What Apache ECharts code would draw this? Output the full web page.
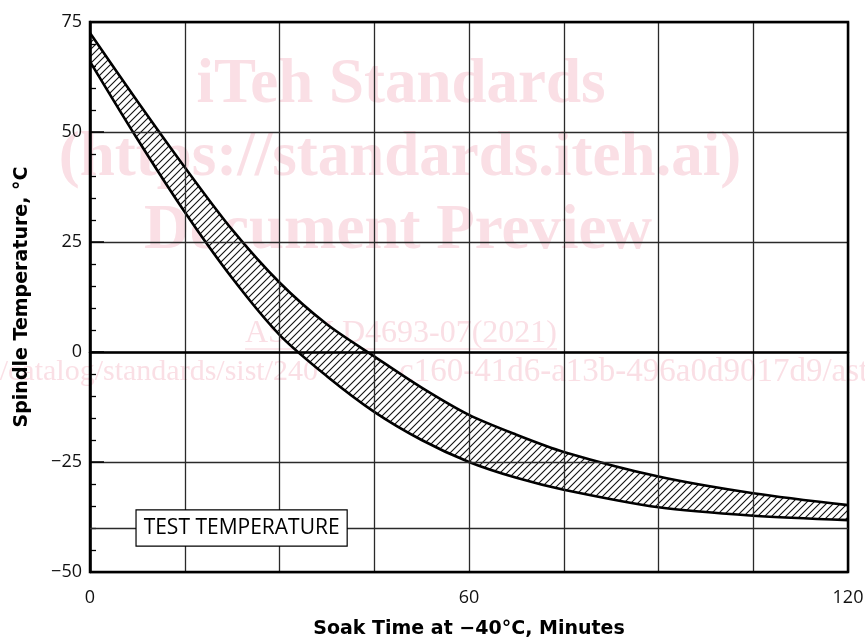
<!DOCTYPE html>
<html>
<head>
<meta charset="utf-8">
<script src="https://cdn.jsdelivr.net/npm/echarts@6/dist/echarts.min.js"></script>
<style>
  html, body { margin: 0; background: #fff; }
  #chart { width: 865px; height: 641px; }
</style>
</head>
<body>
<div id="chart"></div>
<script>
// values
const soakMinutes = [0, 7.5, 15, 22.5, 30, 37.5, 45, 52.5, 60, 67.5, 75, 90, 105, 120];
const upperTemp = [72.5, 57.0, 42.0, 27.8, 15.8, 6.3, -1.0, -8.1, -14.3, -18.8, -22.7, -28.3, -32.1, -34.8];
const lowerTemp = [66, 48.4, 31.8, 16.8, 3.9, -5.5, -13.6, -20.0, -25.0, -28.6, -31.3, -35.3, -37.2, -38.2];
const xTickLabels = [0, 60, 120];
const testTemp = -40;
const testLabel = 'TEST TEMPERATURE';
const testLabelMinute = 24;

const chart = echarts.init(document.getElementById('chart'));

// hatch fill for the band
const hatch = document.createElement('canvas');
hatch.width = 7;
hatch.height = 7;
const ctx = hatch.getContext('2d');
ctx.fillStyle = '#fff';
ctx.fillRect(0, 0, 7, 7);
ctx.strokeStyle = '#111';
ctx.lineWidth = 1.1;
ctx.beginPath();
ctx.moveTo(-1, 8); ctx.lineTo(8, -1);
ctx.moveTo(-1, 1); ctx.lineTo(1, -1);
ctx.moveTo(6, 8); ctx.lineTo(8, 6);
ctx.stroke();

const pink = '#fadfe5';
const wm = (text, x, y, font, align) => ({
  type: 'text', z: 0, silent: true,
  style: {
    text, x, y, font, fill: pink,
    align: align || 'center', textAlign: align || 'center',
    verticalAlign: 'middle', textVerticalAlign: 'middle'
  }
});

const gridLine = { color: '#2a2a2a', width: 1.3 };

// y first so the stack is taken on the temperature dimension
const toPoints = (vals) => soakMinutes.map((m, i) => [vals[i], m]);

const option = {
  animation: false,
  backgroundColor: '#fff',
  graphic: [
    wm('iTeh Standards', 401, 86, 'bold 63px "Liberation Serif"'),
    wm('(https://standards.iteh.ai)', 400, 159, 'bold 63px "Liberation Serif"'),
    wm('Document Preview', 398, 232, 'bold 63px "Liberation Serif"'),
    wm('ASTM D4693-07(2021)', 401, 334, '32px "Liberation Serif"'),
    { type: 'line', z: 0, silent: true, shape: { x1: 245, y1: 349, x2: 557, y2: 349 }, style: { stroke: pink, lineWidth: 1.5 } },
    wm('https://standards.iteh.ai/catalog/standards/sist/240', 318, 372, '30px "Liberation Serif"', 'right'),
    wm('c160-41d6-a13b-496a0d9017d9/astm-d4693-072021', 399, 372, '33px "Liberation Serif"', 'left')
  ],
  grid: {
    left: 90, right: 17, top: 22, bottom: 69,
    outerBoundsMode: 'none', containLabel: false,
    show: true, borderColor: '#000', borderWidth: 2.5, backgroundColor: 'transparent', z: 4
  },
  xAxis: {
    type: 'value', min: 0, max: 120, interval: 15, z: 3,
    name: 'Soak Time at \u221240\u00b0C, Minutes',
    nameLocation: 'middle', nameGap: 48,
    nameTextStyle: { fontFamily: 'DejaVu Sans', fontWeight: 'bold', fontSize: 19, color: '#000' },
    axisLine: { show: true, lineStyle: { color: '#000', width: 2.5 } },
    axisTick: { show: false },
    splitLine: { show: true, lineStyle: gridLine },
    axisLabel: {
      margin: 17, fontFamily: 'Open Sans', fontSize: 18, color: '#111',
      formatter: (v) => (xTickLabels.includes(v) ? String(v) : '')
    }
  },
  yAxis: {
    type: 'value', min: -50, max: 75, interval: 25, z: 3,
    name: 'Spindle Temperature, \u00b0C',
    nameLocation: 'middle', nameGap: 58, nameRotate: 90,
    nameTextStyle: { fontFamily: 'DejaVu Sans', fontWeight: 'bold', fontSize: 19, color: '#000' },
    axisLine: { show: true, lineStyle: { color: '#000', width: 2.5 } },
    axisTick: { show: true, inside: true, length: 14, lineStyle: { color: '#000', width: 1.5 } },
    minorTick: { show: true, splitNumber: 5, length: 6, lineStyle: { color: '#000', width: 1.3 } },
    splitLine: { show: true, lineStyle: gridLine },
    axisLabel: {
      margin: 8, fontFamily: 'Open Sans', fontSize: 18, color: '#111',
      formatter: (v) => String(v).replace('-', '\u2212')
    }
  },
  series: [
    {
      type: 'line',
      name: 'lower',
      data: toPoints(lowerTemp),
      encode: { x: 1, y: 0 },
      stack: 'band',
      stackStrategy: 'all',
      smooth: 0.3,
      symbol: 'none',
      lineStyle: { color: '#000', width: 2.6 },
      z: 2,
      markLine: {
        silent: true,
        symbol: 'none',
        label: { show: false },
        lineStyle: { color: '#2a2a2a', width: 1.3, type: 'solid' },
        data: [{ yAxis: testTemp }]
      }
    },
    {
      type: 'line',
      name: 'band',
      data: toPoints(upperTemp.map((u, i) => u - lowerTemp[i])),
      encode: { x: 1, y: 0 },
      stack: 'band',
      stackStrategy: 'all',
      smooth: 0.3,
      symbol: 'none',
      lineStyle: { color: '#000', width: 2.6 },
      areaStyle: { color: { image: hatch, repeat: 'repeat' }, opacity: 1 },
      z: 1
    },
    {
      type: 'scatter',
      data: [[testLabelMinute, testTemp]],
      symbolSize: 0,
      silent: true,
      itemStyle: { opacity: 1 },
      label: {
        show: true, position: 'inside', formatter: testLabel, offset: [0, 0],
        fontFamily: 'Open Sans', fontSize: 21, lineHeight: 23, color: '#000', opacity: 1,
        backgroundColor: '#fff', borderColor: '#000', borderWidth: 1.2, padding: [6, 7]
      },
      z: 5
    }
  ]
};

chart.setOption(option);
</script>
</body>
</html>
